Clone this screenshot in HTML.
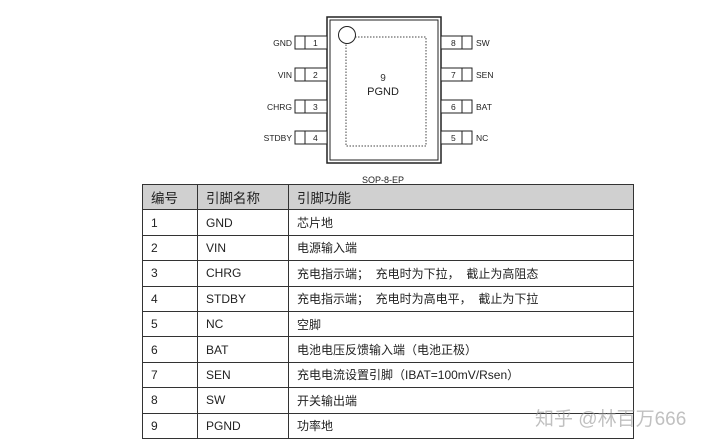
<!DOCTYPE html>
<html><head><style>
body{margin:0;width:720px;height:447px;background:#fff;position:relative;overflow:hidden;font-family:"Liberation Sans","Noto Sans CJK SC",sans-serif;}
table{position:absolute;left:142px;top:184px;border-collapse:collapse;width:492px;font-size:12px;color:#222;}
td{border:1px solid #333;height:24.4px;padding:0 0 0 8px;}
tr:first-child td{background:#d0d0d0;font-size:13.5px;}
.wm{position:absolute;left:535px;top:404px;font-size:19px;color:rgba(150,150,150,0.6);}
</style></head><body>
<svg width="720" height="200" style="position:absolute;left:0;top:0" font-family="Liberation Sans, sans-serif">
<rect x="327" y="17" width="114" height="146" fill="#fff" stroke="#222" stroke-width="1.5"/>
<rect x="330" y="20" width="108" height="140" fill="none" stroke="#222" stroke-width="1"/>
<rect x="346" y="37" width="80" height="109" fill="none" stroke="#444" stroke-dasharray="1.5,1.5"/>
<circle cx="347" cy="35" r="8.5" fill="#fff" stroke="#222"/>
<text x="383" y="81" font-size="10" text-anchor="middle" fill="#333">9</text>
<text x="383" y="95" font-size="11" text-anchor="middle" fill="#222">PGND</text>
<text x="383" y="183" font-size="9" text-anchor="middle" fill="#222">SOP-8-EP</text>
<g font-size="8.5" fill="#222" stroke="none">
<g stroke="#222" fill="#fff">
<rect x="295" y="36" width="32" height="13"/><line x1="305" y1="36" x2="305" y2="49"/>
<rect x="295" y="68" width="32" height="13"/><line x1="305" y1="68" x2="305" y2="81"/>
<rect x="295" y="100" width="32" height="13"/><line x1="305" y1="100" x2="305" y2="113"/>
<rect x="295" y="131" width="32" height="13"/><line x1="305" y1="131" x2="305" y2="144"/>
<rect x="441" y="36" width="31" height="13"/><line x1="462" y1="36" x2="462" y2="49"/>
<rect x="441" y="68" width="31" height="13"/><line x1="462" y1="68" x2="462" y2="81"/>
<rect x="441" y="100" width="31" height="13"/><line x1="462" y1="100" x2="462" y2="113"/>
<rect x="441" y="131" width="31" height="13"/><line x1="462" y1="131" x2="462" y2="144"/>
</g>
<text x="313" y="46">1</text><text x="313" y="78">2</text><text x="313" y="110">3</text><text x="313" y="141">4</text>
<text x="451" y="46">8</text><text x="451" y="78">7</text><text x="451" y="110">6</text><text x="451" y="141">5</text>
<g text-anchor="end"><text x="292" y="46">GND</text><text x="292" y="78">VIN</text><text x="292" y="110">CHRG</text><text x="292" y="141">STDBY</text></g>
<text x="476" y="46">SW</text><text x="476" y="78">SEN</text><text x="476" y="110">BAT</text><text x="476" y="141">NC</text>
</g>
</svg>
<table>
<tr><td style="width:46px">编号</td><td style="width:82px">引脚名称</td><td>引脚功能</td></tr>
<tr><td>1</td><td>GND</td><td>芯片地</td></tr>
<tr><td>2</td><td>VIN</td><td>电源输入端</td></tr>
<tr><td>3</td><td>CHRG</td><td>充电指示端；&nbsp; 充电时为下拉，&nbsp; 截止为高阻态</td></tr>
<tr><td>4</td><td>STDBY</td><td>充电指示端；&nbsp; 充电时为高电平，&nbsp; 截止为下拉</td></tr>
<tr><td>5</td><td>NC</td><td>空脚</td></tr>
<tr><td>6</td><td>BAT</td><td>电池电压反馈输入端（电池正极）</td></tr>
<tr><td>7</td><td>SEN</td><td>充电电流设置引脚（IBAT=100mV/Rsen）</td></tr>
<tr><td>8</td><td>SW</td><td>开关输出端</td></tr>
<tr><td>9</td><td>PGND</td><td>功率地</td></tr>
</table>
<div class="wm">知乎 @林百万666</div>
</body></html>
